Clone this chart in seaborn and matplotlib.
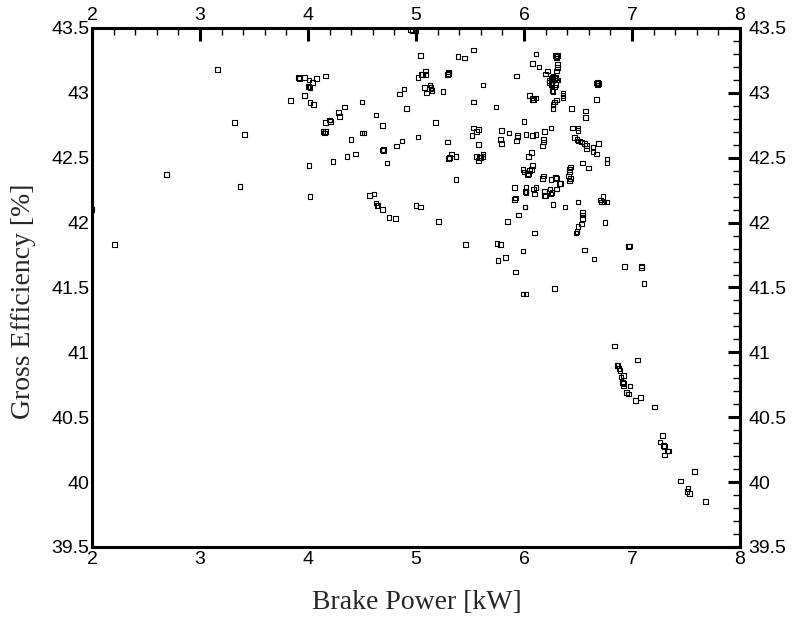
import matplotlib
matplotlib.use("Agg")
import matplotlib.pyplot as plt
from matplotlib.ticker import MultipleLocator, FormatStrFormatter, FixedLocator
from matplotlib.transforms import ScaledTranslation
import seaborn as sns
import pandas as pd

# ---- data ----
power_kw = [
    2.00, 2.21, 2.69, 3.16, 3.32, 3.41, 3.37, 3.84,
    3.91, 3.92, 3.97, 4.01, 4.04, 4.08, 4.16, 4.01, 4.02, 4.00,
    3.97, 4.02, 4.05, 4.50, 4.34, 4.28, 4.29, 4.63,
    4.20, 4.16, 4.21, 4.14, 4.16, 4.15, 4.50, 4.52, 4.40,
    4.36, 4.44, 4.23, 4.01, 4.02, 4.57, 4.61,
    4.63, 4.64, 4.65, 4.69, 4.75, 4.81, 5.00, 5.04, 5.21, 5.46,
    5.75, 5.78, 5.76, 5.83, 5.85, 5.95, 5.91, 6.01, 5.99, 5.92,
    5.99, 6.02, 6.10, 6.28,
    4.95, 4.97, 5.00, 5.04, 5.39, 5.45, 5.53,
    5.02, 5.05, 5.06, 5.09, 5.09, 5.30, 5.29, 5.30,
    5.08, 5.13, 5.14, 5.10, 5.15, 5.14, 5.25, 4.89, 4.85, 5.62,
    5.53, 4.91, 5.74, 4.69, 5.18, 5.93,
    6.11, 6.08, 6.14, 6.22, 6.20,
    6.29, 6.30, 6.31, 6.30, 6.31, 6.31, 6.30,
    6.26, 6.28, 6.30, 6.27, 6.25, 6.23, 6.29, 6.31, 6.27,
    6.23, 6.26, 6.28, 6.26, 6.25, 6.29,
    6.36, 6.36, 6.36, 6.05, 6.08, 6.11, 6.08, 6.09,
    6.28, 6.27, 6.30, 6.27, 6.44, 6.57, 6.57,
    6.68, 6.68, 6.69, 6.67, 6.67, 6.00,
    6.25, 6.19, 6.11, 6.08, 6.02, 6.18, 6.18, 6.17,
    6.45, 6.50, 6.50,
    6.47, 6.50, 6.53, 6.56, 6.58, 6.58, 6.64, 6.64, 6.67, 6.69, 6.49, 6.52,
    6.77, 6.77, 6.54, 6.60, 6.07, 6.04,
    6.08, 6.07, 6.04, 6.03, 6.00, 5.99, 6.05,
    6.43, 6.42, 6.43, 6.42, 6.42, 6.41,
    6.17, 6.25, 6.30, 6.34, 6.18,
    6.11, 6.09, 6.02, 6.02, 6.19, 6.19, 6.26, 6.30, 6.73,
    5.53, 5.58, 5.56, 5.52, 5.79, 5.78, 5.79, 5.86,
    5.94, 5.93, 5.94, 5.29, 5.58,
    5.30, 5.33, 5.37, 5.31, 5.56, 5.58, 5.60, 5.62, 5.62, 5.59,
    5.37, 5.91, 6.01, 6.02, 5.92, 5.02, 4.87, 4.82,
    4.70, 4.69, 4.70, 4.73,
    6.10, 6.24, 6.20, 6.25, 6.29, 6.33,
    6.01, 6.27, 6.38, 6.50,
    6.54, 6.54, 6.54, 6.53, 6.50, 6.49, 6.48,
    6.71, 6.72, 6.74, 6.77, 6.75, 6.56, 6.65, 6.27,
    6.97, 6.975, 6.93, 7.09, 7.09, 7.11,
    6.84, 7.05, 6.86, 6.87, 6.88, 6.89, 6.92, 6.90, 6.91, 6.92,
    6.92, 6.98, 6.95, 6.97, 7.03, 7.08, 7.21,
    7.28, 7.26, 7.29, 7.30, 7.33, 7.34, 7.30,
    7.58, 7.45, 7.52, 7.51, 7.53, 7.68,
]
efficiency_pct = [
    42.10, 41.83, 42.37, 43.18, 42.77, 42.68, 42.28, 42.94,
    43.12, 43.11, 43.12, 43.10, 43.08, 43.11, 43.13, 43.05, 43.04, 43.05,
    42.98, 42.925, 42.91, 42.93, 42.89, 42.85, 42.82, 42.83,
    42.79, 42.77, 42.78, 42.70, 42.70, 42.69, 42.69, 42.69, 42.64,
    42.51, 42.53, 42.47, 42.44, 42.20, 42.21, 42.22,
    42.15, 42.13, 42.13, 42.10, 42.04, 42.03, 42.13, 42.12, 42.01, 41.83,
    41.84, 41.83, 41.71, 41.73, 42.01, 42.06, 42.18, 42.12, 41.78, 41.62,
    41.45, 41.45, 41.92, 41.49,
    43.49, 43.48, 43.48, 43.29, 43.28, 43.27, 43.33,
    43.12, 43.14, 43.14, 43.17, 43.14, 43.16, 43.14, 43.15,
    43.04, 43.06, 43.03, 43.00, 43.02, 43.04, 43.01, 43.03, 42.99, 43.06,
    42.93, 42.88, 42.89, 42.75, 42.77, 43.13,
    43.30, 43.225, 43.20, 43.17, 43.145,
    43.29, 43.28, 43.29, 43.27, 43.22, 43.195, 43.17,
    43.12, 43.11, 43.10, 43.10, 43.11, 43.095, 43.12, 43.10, 43.13,
    43.08, 43.07, 43.045, 43.02, 43.065, 43.065,
    43.00, 42.98, 42.96, 42.98, 42.96, 42.96, 42.945, 42.95,
    42.93, 42.91, 42.945, 42.88, 42.88, 42.86, 42.81,
    43.08, 43.06, 43.07, 43.075, 42.95, 42.78,
    42.73, 42.70, 42.68, 42.67, 42.68, 42.64, 42.62, 42.59,
    42.73, 42.73, 42.71,
    42.657, 42.63, 42.62, 42.61, 42.595, 42.57, 42.58, 42.55, 42.53, 42.61, 42.64, 42.63,
    42.49, 42.46, 42.46, 42.42, 42.54, 42.51,
    42.44, 42.41, 42.38, 42.37, 42.39, 42.41, 42.40,
    42.43, 42.39, 42.34, 42.32, 42.41, 42.36,
    42.34, 42.33, 42.34, 42.30, 42.36,
    42.27, 42.26, 42.27, 42.24, 42.24, 42.21, 42.23, 42.26, 42.20,
    42.73, 42.72, 42.70, 42.67, 42.71, 42.64, 42.61, 42.69,
    42.66, 42.63, 42.67, 42.62, 42.60,
    42.495, 42.53, 42.51, 42.50, 42.51, 42.48, 42.50, 42.53, 42.51, 42.50,
    42.33, 42.27, 42.24, 42.23, 42.19, 42.66, 42.63, 42.59,
    42.565, 42.56, 42.555, 42.46,
    42.22, 42.26, 42.21, 42.22, 42.35, 42.30,
    42.12, 42.14, 42.12, 42.16,
    42.08, 42.06, 42.03, 41.99, 41.97, 41.93, 41.92,
    42.175, 42.16, 42.16, 42.16, 42.00, 41.79, 41.72, 43.01,
    41.815, 41.82, 41.66, 41.665, 41.655, 41.53,
    41.05, 40.94, 40.90, 40.90, 40.875, 40.86, 40.82, 40.81, 40.77, 40.76,
    40.74, 40.74, 40.69, 40.68, 40.63, 40.65, 40.58,
    40.36, 40.31, 40.28, 40.275, 40.24, 40.24, 40.21,
    40.08, 40.01, 39.95, 39.93, 39.91, 39.85,
]
x_ticks = [2, 3, 4, 5, 6, 7, 8]
y_ticks = [39.5, 40, 40.5, 41, 41.5, 42, 42.5, 43, 43.5]
x_label = "Brake Power [kW]"
y_label = "Gross Efficiency [%]"

df = pd.DataFrame({"power": power_kw, "eff": efficiency_pct})

sns.set_style("white")
plt.rcParams["font.family"] = ["Liberation Sans", "DejaVu Sans"]

fig = plt.figure(figsize=(7.96, 6.18), dpi=100)
ax = fig.add_axes([0.1156, 0.1149, 0.8140, 0.8398])

sns.scatterplot(data=df, x="power", y="eff", marker="s", s=11,
                linewidth=0.8, ax=ax, legend=False, zorder=3)
for coll in ax.collections:
    coll.set_facecolor("none")
    coll.set_edgecolor("black")
    coll.set_linewidth(0.8)

ax.set_xlim(2, 8)
ax.set_ylim(39.5, 43.5)
ax.xaxis.set_major_locator(FixedLocator(x_ticks))
ax.yaxis.set_major_locator(FixedLocator(y_ticks))
ax.xaxis.set_minor_locator(MultipleLocator(0.2))
ax.yaxis.set_minor_locator(MultipleLocator(0.1))
ax.xaxis.set_major_formatter(FormatStrFormatter("%g"))
ax.yaxis.set_major_formatter(FormatStrFormatter("%g"))

ax.tick_params(which="both", direction="in", top=True, right=True,
               labeltop=True, labelright=True, colors="black")
ax.tick_params(which="major", length=9, width=2.2, labelsize=14, pad=2)
ax.tick_params(axis="x", which="major", pad=3)
ax.tick_params(which="minor", length=5, width=1.0)

# right-hand labels sit a little further from the frame
for t in ax.yaxis.get_major_ticks():
    t.label2.set_transform(t.label2.get_transform()
                           + ScaledTranslation(4 / 72, 0, fig.dpi_scale_trans))

for sp in ax.spines.values():
    sp.set_visible(True)
    sp.set_linewidth(2.2)
    sp.set_color("black")

serif = ["Liberation Serif", "DejaVu Serif"]
ax.set_xlabel(x_label, family=serif, fontsize=20)
ax.set_ylabel(y_label, family=serif, fontsize=20)
ax.xaxis.set_label_coords(0.5015, -0.083)
ax.yaxis.set_label_coords(-0.086, 0.474)

fig.savefig("out.png", dpi=100)
